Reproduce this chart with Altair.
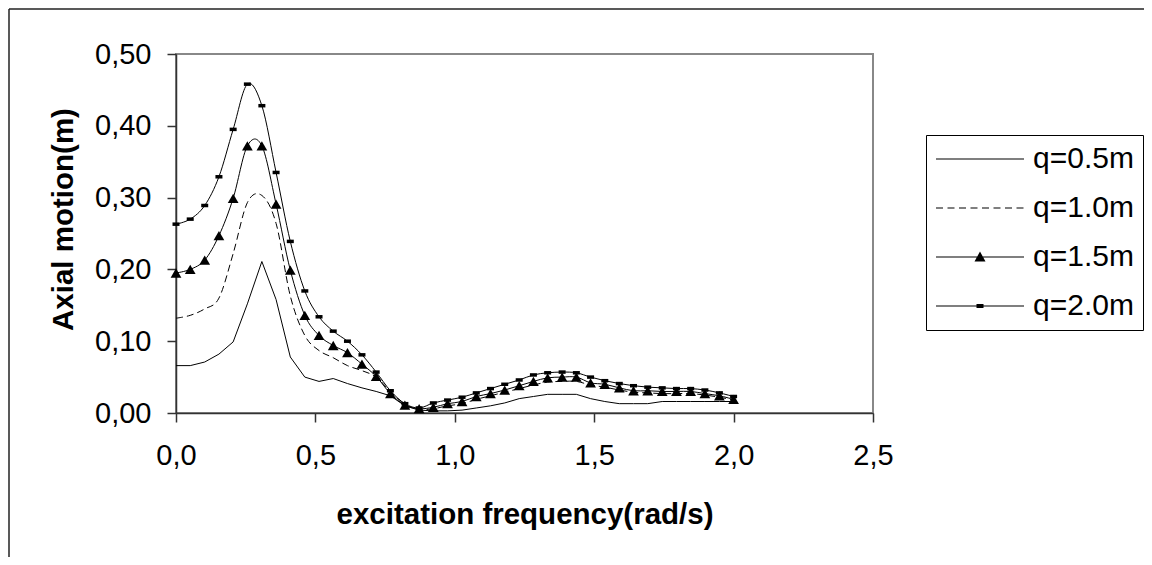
import altair as alt
import pandas as pd

# ---------------- data ----------------
freq = [0.000, 0.051, 0.103, 0.154, 0.205, 0.256, 0.308, 0.359, 0.410, 0.462,
        0.513, 0.564, 0.615, 0.667, 0.718, 0.769, 0.821, 0.872, 0.923, 0.974,
        1.026, 1.077, 1.128, 1.179, 1.231, 1.282, 1.333, 1.385, 1.436, 1.487,
        1.538, 1.590, 1.641, 1.692, 1.744, 1.795, 1.846, 1.897, 1.949, 2.000]

q05 = [0.066, 0.066, 0.071, 0.082, 0.099, 0.152, 0.211, 0.158, 0.078, 0.050,
       0.044, 0.048, 0.041, 0.035, 0.030, 0.024, 0.010, 0.004, 0.003, 0.003,
       0.004, 0.007, 0.010, 0.014, 0.020, 0.023, 0.026, 0.026, 0.026, 0.020,
       0.016, 0.013, 0.013, 0.013, 0.016, 0.016, 0.016, 0.016, 0.016, 0.016]

q10 = [0.132, 0.136, 0.145, 0.160, 0.222, 0.293, 0.303, 0.264, 0.163, 0.108,
       0.087, 0.077, 0.066, 0.059, 0.050, 0.030, 0.012, 0.005, 0.006, 0.010,
       0.013, 0.019, 0.024, 0.029, 0.034, 0.039, 0.043, 0.044, 0.044, 0.039,
       0.036, 0.032, 0.029, 0.028, 0.027, 0.027, 0.027, 0.025, 0.022, 0.018]

q15 = [0.195, 0.200, 0.213, 0.247, 0.299, 0.372, 0.372, 0.291, 0.199, 0.136,
       0.108, 0.094, 0.084, 0.068, 0.051, 0.027, 0.011, 0.006, 0.008, 0.013,
       0.016, 0.023, 0.027, 0.032, 0.038, 0.044, 0.049, 0.050, 0.050, 0.042,
       0.040, 0.035, 0.031, 0.031, 0.030, 0.030, 0.030, 0.027, 0.024, 0.019]

q20 = [0.263, 0.270, 0.289, 0.329, 0.395, 0.458, 0.428, 0.335, 0.239, 0.170,
       0.134, 0.114, 0.100, 0.081, 0.057, 0.031, 0.013, 0.007, 0.014, 0.018,
       0.022, 0.028, 0.034, 0.040, 0.046, 0.053, 0.056, 0.057, 0.056, 0.050,
       0.045, 0.041, 0.038, 0.036, 0.035, 0.034, 0.034, 0.032, 0.028, 0.023]

series_names = ["q=0.5m", "q=1.0m", "q=1.5m", "q=2.0m"]
x_ticks = [0.0, 0.5, 1.0, 1.5, 2.0, 2.5]
y_ticks = [0.0, 0.1, 0.2, 0.3, 0.4, 0.5]

rows = []
for name, vals in zip(series_names, [q05, q10, q15, q20]):
    for f, v in zip(freq, vals):
        rows.append({"freq": f, "motion": v, "series": name})
df = pd.DataFrame(rows)

# ---------------- styling ----------------
FONT = "Liberation Sans"
W, H = 697, 359
PAD = {"left": 168, "top": 46, "right": 271, "bottom": 144}

# legend symbols drawn as filled shapes: 1 unit = 10 px (symbolSize 400)
LINE = "M-4.4,-0.06H4.4V0.06H-4.4Z"
dash_parts = []
start = -4.4
while start < 4.4:
    end = min(start + 0.7, 4.4)
    dash_parts.append(f"M{start:.2f},-0.06H{end:.2f}V0.06H{start:.2f}Z")
    start += 1.15
legend_paths = [
    LINE,
    "".join(dash_parts),
    LINE + "M0,-0.55L0.55,0.45L-0.55,0.45Z",
    LINE + "M-0.35,-0.2H0.35V0.2H-0.35Z",
]

x_enc = alt.X(
    "freq:Q",
    scale=alt.Scale(domain=[0, 2.5], nice=False, zero=False),
    axis=alt.Axis(
        values=x_ticks,
        labelExpr="replace(format(datum.value, '.1f'), '.', ',')",
        title="excitation frequency(rad/s)",
        titleY=110,
        titleBaseline="alphabetic",
        titleFontSize=29.5,
        labelPadding=19,
    ),
)
y_enc = alt.Y(
    "motion:Q",
    scale=alt.Scale(domain=[0, 0.5], nice=False),
    axis=alt.Axis(
        values=y_ticks,
        labelExpr="replace(format(datum.value, '.2f'), '.', ',')",
        title="Axial motion(m)",
        titleX=-104,
        titleY=165,
        titleAngle=270,
        titleAlign="center",
        titleBaseline="alphabetic",
        titleFontSize=29.5,
        labelPadding=16,
    ),
)

base = alt.Chart(df)

line05 = base.transform_filter(alt.datum.series == "q=0.5m").mark_line(
    color="black", strokeWidth=1, interpolate="linear"
).encode(x=x_enc, y=y_enc)

line10 = base.transform_filter(alt.datum.series == "q=1.0m").mark_line(
    color="black", strokeWidth=1, interpolate="cardinal", strokeDash=[7, 4]
).encode(x="freq:Q", y="motion:Q")

line15 = base.transform_filter(alt.datum.series == "q=1.5m").mark_line(
    color="black", strokeWidth=1, interpolate="cardinal"
).encode(x="freq:Q", y="motion:Q")

line20 = base.transform_filter(alt.datum.series == "q=2.0m").mark_line(
    color="black", strokeWidth=1, interpolate="cardinal"
).encode(x="freq:Q", y="motion:Q")

tri = base.transform_filter(alt.datum.series == "q=1.5m").mark_point(
    shape="triangle-up", filled=True, color="black", size=115, opacity=1
).encode(x="freq:Q", y="motion:Q")

sq = base.transform_filter(alt.datum.series == "q=2.0m").mark_point(
    shape="M-1,-0.5H1V0.5H-1Z", filled=True, color="black", size=49, opacity=1
).encode(x="freq:Q", y="motion:Q")

legend_layer = base.mark_point(filled=True, color="black", opacity=0).encode(
    x="freq:Q",
    y="motion:Q",
    shape=alt.Shape(
        "series:N",
        scale=alt.Scale(domain=series_names, range=legend_paths),
        legend=alt.Legend(
            title=None,
            orient="none",
            legendX=750,
            legendY=81,
            padding=9,
            strokeColor="black",
            fillColor="white",
            labelFont=FONT,
            labelFontSize=30,
            labelColor="black",
            labelOffset=38,
            labelLimit=400,
            symbolSize=400,
            symbolOffset=30,
            symbolFillColor="black",
            symbolStrokeWidth=0,
            symbolOpacity=1,
            rowPadding=19,
        ),
    ),
)

frame_df = pd.DataFrame({"k": [0]})
frame_left = alt.Chart(frame_df).mark_rule(color="#222222", strokeWidth=1.5).encode(
    x=alt.value(-167), y=alt.value(-45), y2=alt.value(H + PAD["bottom"])
)
frame_top = alt.Chart(frame_df).mark_rule(color="#222222", strokeWidth=1.5).encode(
    x=alt.value(-167), x2=alt.value(W + PAD["right"]), y=alt.value(-45)
)

chart = alt.layer(
    frame_left, frame_top, line05, line10, line15, line20, tri, sq, legend_layer
).properties(
    width=W,
    height=H,
    padding=PAD,
    autosize=alt.AutoSizeParams(type="none"),
    background="white",
).configure_view(
    stroke="#888888", strokeWidth=2
).configure_axis(
    grid=False,
    labelFlush=False,
    labelFont=FONT,
    labelFontSize=29,
    labelColor="black",
    titleFont=FONT,
    titleFontWeight="bold",
    titleColor="black",
    domainColor="#333333",
    domainWidth=1.5,
    tickColor="#333333",
    tickWidth=1.5,
    tickSize=9,
)

chart.save("out.html", embed_options={"renderer": "svg", "actions": False})
